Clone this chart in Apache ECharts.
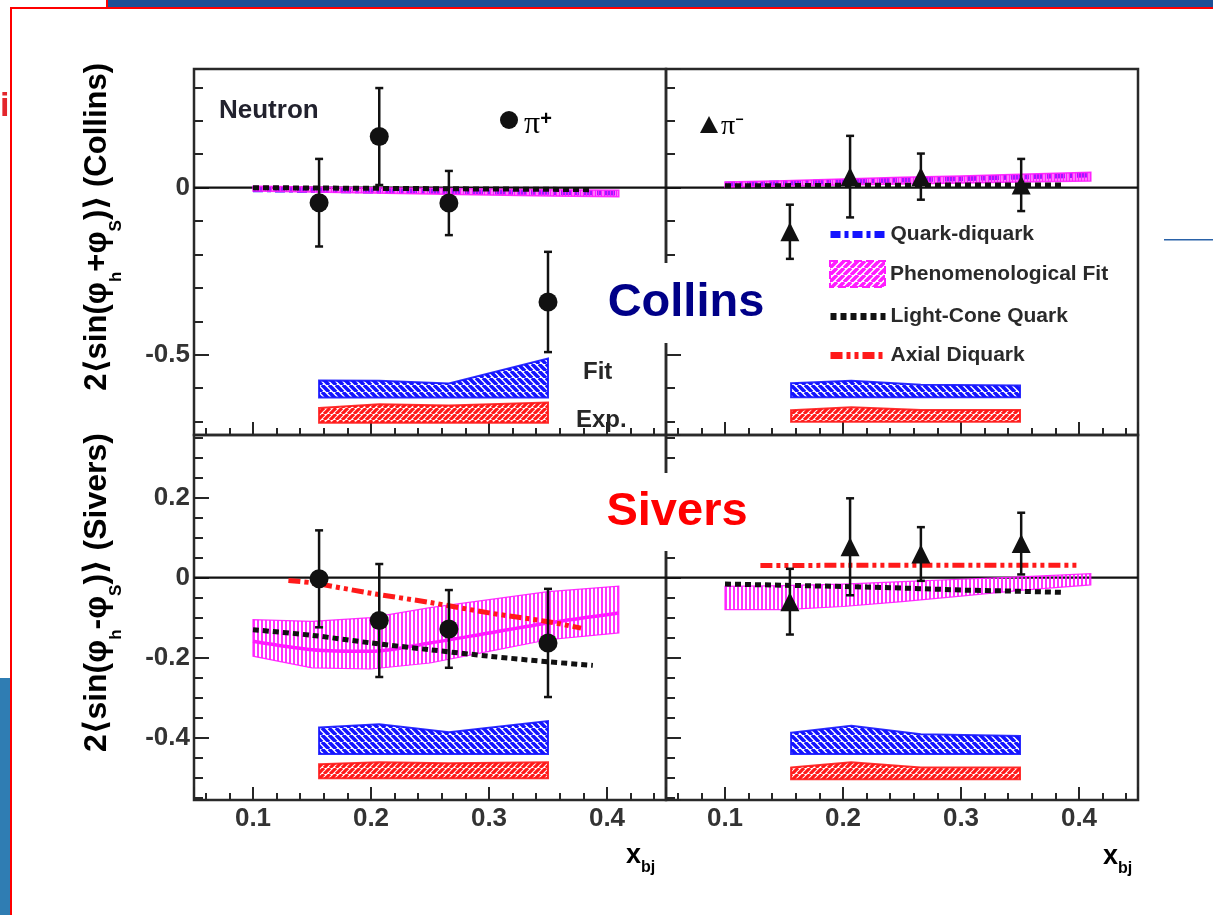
<!DOCTYPE html>
<html><head><meta charset="utf-8">
<script src="https://cdn.jsdelivr.net/npm/echarts@6/dist/echarts.min.js"></script>
<style>html,body{margin:0;padding:0;background:#fff}#c{width:1213px;height:915px}</style>
</head><body><div id="c"></div><script>
// ---------- tick labels ----------
const tickLabelsX = ['0.1', '0.2', '0.3', '0.4'];
const tickLabelsCollins = ['0', '-0.5'];
const tickLabelsSivers = ['0.2', '0', '-0.2', '-0.4'];

// ---------- data points (x_bj, asymmetry, stat. error) ----------
const ptXPip = [0.156, 0.207, 0.266, 0.350];
const ptXPim = [0.155, 0.206, 0.266, 0.351];
const collinsPipY = [-0.045, 0.153, -0.046, -0.342];
const collinsPipErr = [0.131, 0.145, 0.096, 0.150];
const collinsPimY = [-0.132, 0.033, 0.033, 0.008];
const collinsPimErr = [0.081, 0.122, 0.069, 0.078];
const siversPipY = [-0.003, -0.107, -0.128, -0.163];
const siversPipErr = [0.121, 0.141, 0.097, 0.135];
const siversPimY = [-0.060, 0.077, 0.059, 0.085];
const siversPimErr = [0.082, 0.121, 0.067, 0.077];

// ---------- phenomenological fit bands ----------
const phenoX = [0.10, 0.15, 0.20, 0.25, 0.30, 0.35, 0.41];
const colPipPhenoHi = [0.004, 0.002, 0.000, -0.002, -0.004, -0.006, -0.008];
const colPipPhenoLo = [-0.010, -0.013, -0.016, -0.019, -0.022, -0.025, -0.027];
const colPimPhenoHi = [0.017, 0.021, 0.026, 0.031, 0.035, 0.040, 0.046];
const colPimPhenoLo = [0.002, 0.005, 0.008, 0.011, 0.014, 0.017, 0.020];
const sivPipPhenoHi = [-0.105, -0.109, -0.100, -0.075, -0.055, -0.035, -0.021];
const sivPipPhenoLo = [-0.196, -0.225, -0.228, -0.213, -0.184, -0.155, -0.138];
const sivPipPhenoMid = [-0.159, -0.180, -0.184, -0.163, -0.138, -0.113, -0.088];
const sivPimPhenoHi = [-0.022, -0.020, -0.016, -0.010, -0.004, 0.002, 0.010];
const sivPimPhenoLo = [-0.080, -0.080, -0.072, -0.060, -0.046, -0.032, -0.018];

// ---------- model curves ----------
const qdX = [0.10, 0.15, 0.20, 0.25, 0.30, 0.35, 0.41];
const colPipQD = [-0.006, -0.008, -0.010, -0.011, -0.013, -0.014, -0.016];
const colPimQD = [0.010, 0.014, 0.018, 0.023, 0.027, 0.032, 0.038];

const lcXCol = [0.10, 0.15, 0.20, 0.25, 0.30, 0.35, 0.385];
const colPipLC = [0.000, -0.001, -0.002, -0.003, -0.004, -0.005, -0.006];
const colPimLC = [0.006, 0.006, 0.007, 0.007, 0.008, 0.008, 0.008];
const lcXSiv = [0.10, 0.15, 0.20, 0.25, 0.30, 0.35, 0.388];
const sivPipLC = [-0.130, -0.144, -0.163, -0.180, -0.196, -0.210, -0.219];
const sivPimLC = [-0.016, -0.019, -0.022, -0.026, -0.031, -0.034, -0.037];

const adXPip = [0.13, 0.15, 0.20, 0.25, 0.30, 0.35, 0.378];
const sivPipAD = [-0.007, -0.013, -0.039, -0.062, -0.088, -0.110, -0.126];
const adXPim = [0.13, 0.15, 0.20, 0.25, 0.30, 0.35, 0.398];
const sivPimAD = [0.030, 0.030, 0.031, 0.031, 0.031, 0.031, 0.031];

// ---------- systematic error bands ----------
const sysX = [0.156, 0.207, 0.266, 0.350];
const colPipFitTop = [-0.577, -0.578, -0.586, -0.511];
const colPipFitBase = [-0.628, -0.628, -0.628, -0.628];
const colPipExpTop = [-0.659, -0.648, -0.652, -0.643];
const colPipExpBase = [-0.703, -0.703, -0.703, -0.703];
const colPimFitTop = [-0.585, -0.578, -0.590, -0.592];
const colPimFitBase = [-0.627, -0.627, -0.627, -0.627];
const colPimExpTop = [-0.666, -0.657, -0.665, -0.665];
const colPimExpBase = [-0.700, -0.700, -0.700, -0.700];
const sivPipFitTop = [-0.374, -0.366, -0.386, -0.358];
const sivPipFitBase = [-0.440, -0.440, -0.440, -0.440];
const sivPipExpTop = [-0.466, -0.461, -0.463, -0.461];
const sivPipExpBase = [-0.501, -0.501, -0.501, -0.501];
const sivPimFitTop = [-0.387, -0.370, -0.391, -0.395];
const sivPimFitBase = [-0.440, -0.440, -0.440, -0.440];
const sivPimExpTop = [-0.474, -0.461, -0.474, -0.474];
const sivPimExpBase = [-0.503, -0.503, -0.503, -0.503];

const zeroX = [0.05, 0.45];
const zeroY = [0, 0];

// ---------- styling helpers ----------
const FONT = '"Liberation Sans", Arial, "DejaVu Sans", sans-serif';
const SERIF = '"Liberation Serif", "DejaVu Serif", serif';
const INK = '#262626';
const MAG = '#ff1cff', BLUE = '#1414ff', RED = '#ff1a1a';

function hatch(color, kind, size, lw) {
  const c = document.createElement('canvas');
  c.width = size; c.height = size;
  const g = c.getContext('2d');
  g.strokeStyle = color; g.lineWidth = lw;
  g.beginPath();
  if (kind === 'back') {
    for (let k = -1; k <= 1; k++) { g.moveTo(k * size, 0); g.lineTo(k * size + size, size); }
  } else if (kind === 'fwd') {
    for (let k = -1; k <= 1; k++) { g.moveTo(k * size, size); g.lineTo(k * size + size, 0); }
  } else {
    g.moveTo(size / 2, 0); g.lineTo(size / 2, size);
  }
  g.stroke();
  return { image: c, repeat: 'repeat' };
}
const patBlue = hatch(BLUE, 'back', 7, 3.6);
const patRed = hatch(RED, 'fwd', 6, 3.2);
const patMag = hatch(MAG, 'vert', 4, 1.8);
const patMagDense = hatch(MAG, 'vert', 3, 2.2);
const patMagLegend = hatch(MAG, 'fwd', 7, 3.5);

function fmt(v) { return String(Math.round(v * 1000) / 1000); }
function labelFilter(list) { return function (v) { const s = fmt(v); return list.indexOf(s) >= 0 ? s : ''; }; }

function xAx(g, showLabels) {
  return {
    type: 'value', gridIndex: g, min: 0.05, max: 0.45, splitNumber: 4,
    axisLine: { show: false, onZero: false }, splitLine: { show: false },
    axisTick: { show: true, inside: true, length: 13, lineStyle: { color: INK, width: 2 } },
    minorTick: { show: true, splitNumber: 5, length: 7, lineStyle: { color: INK, width: 2 } },
    axisLabel: { show: showLabels, margin: 6, fontSize: 26, fontWeight: 'bold', color: '#333', fontFamily: FONT,
      formatter: labelFilter(tickLabelsX) }
  };
}
function yAx(g, min, max, split, minorSplit, showLabels, labels) {
  return {
    type: 'value', gridIndex: g, min: min, max: max, splitNumber: split,
    axisLine: { show: false, onZero: false }, splitLine: { show: false },
    axisTick: { show: true, inside: true, length: 15, lineStyle: { color: INK, width: 2 } },
    minorTick: { show: true, splitNumber: minorSplit, length: 9, lineStyle: { color: INK, width: 2 } },
    axisLabel: { show: showLabels, margin: 4, fontSize: 26, fontWeight: 'bold', color: '#333', fontFamily: FONT,
      formatter: labelFilter(labels) }
  };
}

function zip2(xs, ys) { return xs.map(function (x, i) { return [x, ys[i]]; }); }
function zip3(xs, a, b) { return xs.map(function (x, i) { return [x, a[i], b[i]]; }); }

function bandSeries(name, g, xs, lo, hi, fill, stroke, sw, z) {
  return {
    type: 'custom', name: name, xAxisIndex: g, yAxisIndex: g, silent: true, z: z, clip: true,
    data: zip3(xs, lo, hi), encode: { x: 0, y: [1, 2] },
    itemStyle: { color: stroke },
    renderItem: function (params, api) {
      if (params.dataIndexInside !== 0) return null;
      const n = params.dataInsideLength;
      const top = [], bot = [];
      for (let j = 0; j < n; j++) {
        const x = api.value(0, j);
        top.push(api.coord([x, api.value(2, j)]));
        bot.push(api.coord([x, api.value(1, j)]));
      }
      const poly = top.concat(bot.slice().reverse());
      return { type: 'group', children: [
        { type: 'polygon', shape: { points: poly }, style: { fill: fill, stroke: null } },
        { type: 'polygon', shape: { points: poly }, style: { fill: null, stroke: stroke, lineWidth: sw, opacity: 0.9 } }
      ] };
    }
  };
}
function lineSeries(name, g, xs, ys, color, dash, width, z, smooth) {
  return {
    type: 'line', name: name, xAxisIndex: g, yAxisIndex: g, silent: true, z: z,
    data: zip2(xs, ys), symbol: 'none', showSymbol: false, smooth: smooth || false,
    lineStyle: { color: color, type: dash, width: width, cap: 'butt' }, itemStyle: { color: color }
  };
}
function errSeries(g, xs, ys, es) {
  return {
    type: 'custom', name: 'err' + g, xAxisIndex: g, yAxisIndex: g, silent: true, z: 8,
    data: zip3(xs, ys, es), encode: { x: 0, y: 1 },
    renderItem: function (params, api) {
      const x = api.value(0), y = api.value(1), e = api.value(2);
      const a = api.coord([x, y + e]), b = api.coord([x, y - e]);
      const cw = 4, st = { stroke: '#111', lineWidth: 2.5 };
      return { type: 'group', children: [
        { type: 'line', shape: { x1: a[0], y1: a[1], x2: b[0], y2: b[1] }, style: st },
        { type: 'line', shape: { x1: a[0] - cw, y1: a[1], x2: a[0] + cw, y2: a[1] }, style: st },
        { type: 'line', shape: { x1: b[0] - cw, y1: b[1], x2: b[0] + cw, y2: b[1] }, style: st }
      ] };
    }
  };
}
function pointSeries(name, g, xs, ys, symbol, size) {
  return {
    type: 'scatter', name: name, xAxisIndex: g, yAxisIndex: g, silent: true, z: 9,
    data: zip2(xs, ys), symbol: symbol, symbolSize: size, itemStyle: { color: '#111', opacity: 1 }
  };
}
function zeroSeries(g) {
  return { type: 'line', name: 'zero' + g, xAxisIndex: g, yAxisIndex: g, silent: true, z: 3,
    data: zip2(zeroX, zeroY), symbol: 'none', lineStyle: { color: '#111', width: 2.2 } };
}

const DASH_QD = [10, 4, 4, 4];
const DASH_LC = [6, 4];
const DASH_AD = [12, 4, 4, 4, 4, 4];

const series = [
  // systematic bands
  bandSeries('Fit', 0, sysX, colPipFitBase, colPipFitTop, patBlue, BLUE, 2, 1),
  bandSeries('Exp.', 0, sysX, colPipExpBase, colPipExpTop, patRed, RED, 2, 1),
  bandSeries('Fit', 1, sysX, colPimFitBase, colPimFitTop, patBlue, BLUE, 2, 1),
  bandSeries('Exp.', 1, sysX, colPimExpBase, colPimExpTop, patRed, RED, 2, 1),
  bandSeries('Fit', 2, sysX, sivPipFitBase, sivPipFitTop, patBlue, BLUE, 2, 1),
  bandSeries('Exp.', 2, sysX, sivPipExpBase, sivPipExpTop, patRed, RED, 2, 1),
  bandSeries('Fit', 3, sysX, sivPimFitBase, sivPimFitTop, patBlue, BLUE, 2, 1),
  bandSeries('Exp.', 3, sysX, sivPimExpBase, sivPimExpTop, patRed, RED, 2, 1),
  // zero lines
  zeroSeries(0), zeroSeries(1), zeroSeries(2), zeroSeries(3),
  // quark-diquark
  lineSeries('Quark-diquark', 0, qdX, colPipQD, BLUE, DASH_QD, 5, 4),
  lineSeries('Quark-diquark', 1, qdX, colPimQD, BLUE, DASH_QD, 5, 4),
  // phenomenological fit
  bandSeries('Phenomenological Fit', 0, phenoX, colPipPhenoLo, colPipPhenoHi, patMagDense, MAG, 1.5, 5),
  bandSeries('Phenomenological Fit', 1, phenoX, colPimPhenoLo, colPimPhenoHi, patMagDense, MAG, 1.5, 5),
  bandSeries('Phenomenological Fit', 2, phenoX, sivPipPhenoLo, sivPipPhenoHi, patMag, MAG, 1.2, 5),
  bandSeries('Phenomenological Fit', 3, phenoX, sivPimPhenoLo, sivPimPhenoHi, patMag, MAG, 1.2, 5),
  lineSeries('Phenomenological Fit', 2, phenoX, sivPipPhenoMid, MAG, 'solid', 3.5, 5, 0.3),
  // light-cone quark
  lineSeries('Light-Cone Quark', 0, lcXCol, colPipLC, '#111', DASH_LC, 5, 6),
  lineSeries('Light-Cone Quark', 1, lcXCol, colPimLC, '#111', DASH_LC, 5, 6),
  lineSeries('Light-Cone Quark', 2, lcXSiv, sivPipLC, '#111', DASH_LC, 5, 6, 0.3),
  lineSeries('Light-Cone Quark', 3, lcXSiv, sivPimLC, '#111', DASH_LC, 5, 6),
  // axial diquark
  lineSeries('Axial Diquark', 2, adXPip, sivPipAD, RED, DASH_AD, 5, 6, 0.3),
  lineSeries('Axial Diquark', 3, adXPim, sivPimAD, RED, DASH_AD, 5, 6),
  // error bars and points
  errSeries(0, ptXPip, collinsPipY, collinsPipErr),
  errSeries(1, ptXPim, collinsPimY, collinsPimErr),
  errSeries(2, ptXPip, siversPipY, siversPipErr),
  errSeries(3, ptXPim, siversPimY, siversPimErr),
  pointSeries('π+', 0, ptXPip, collinsPipY, 'circle', 19),
  pointSeries('π−', 1, ptXPim, collinsPimY, 'triangle', 19),
  pointSeries('π+', 2, ptXPip, siversPipY, 'circle', 19),
  pointSeries('π−', 3, ptXPim, siversPimY, 'triangle', 19)
];

const gridStyle = { show: true, borderColor: '#2a2a2a', borderWidth: 2.5, backgroundColor: 'transparent' };

function txt(x, y, text, size, extra) {
  const st = Object.assign({ text: text, fontSize: size, fontWeight: 'bold', fontFamily: FONT, fill: INK,
    align: 'left', verticalAlign: 'middle' }, extra || {});
  return { type: 'text', x: x, y: y, z: 50, style: st };
}
function titleRich(fs) {
  return {
    m: { fontSize: fs, fontWeight: 'bold', fontFamily: FONT, color: '#2e2e2e', lineHeight: 56 },
    s: { fontSize: 17, fontWeight: 'bold', fontFamily: FONT, color: '#2e2e2e', verticalAlign: 'bottom', lineHeight: 17 }
  };
}
const xbjRich = {
  m: { fontSize: 27, fontWeight: 'bold', fontFamily: FONT, color: '#333', lineHeight: 40 },
  s: { fontSize: 16, fontWeight: 'bold', fontFamily: FONT, color: '#333', verticalAlign: 'bottom', lineHeight: 14 }
};
const hideSym = { opacity: 0 };
const legendText = { fontSize: 21, fontWeight: 'bold', color: '#2a2a2a', fontFamily: FONT };

function legendAt(left, top, item) {
  return { show: true, orient: 'vertical', left: left, top: top, itemWidth: 55, itemHeight: 26,
    selectedMode: false, padding: 0, textStyle: legendText, data: [item] };
}

const option = {
  animation: false,
  backgroundColor: '#ffffff',
  grid: [
    Object.assign({ left: 194, top: 69, width: 472, height: 366 }, gridStyle),
    Object.assign({ left: 666, top: 69, width: 472, height: 366 }, gridStyle),
    Object.assign({ left: 194, top: 435, width: 472, height: 365 }, gridStyle),
    Object.assign({ left: 666, top: 435, width: 472, height: 365 }, gridStyle)
  ],
  xAxis: [xAx(0, false), xAx(1, false), xAx(2, true), xAx(3, true)],
  yAxis: [
    yAx(0, -0.74, 0.355, 2, 5, true, tickLabelsCollins),
    yAx(1, -0.74, 0.355, 2, 5, false, tickLabelsCollins),
    yAx(2, -0.555, 0.356, 4, 4, true, tickLabelsSivers),
    yAx(3, -0.555, 0.356, 4, 4, false, tickLabelsSivers)
  ],
  legend: [
    legendAt(827, 224, { name: 'Quark-diquark', itemStyle: hideSym,
      lineStyle: { width: 7, type: DASH_QD, color: BLUE } }),
    legendAt(829, 260, { name: 'Phenomenological Fit', icon: 'rect',
      itemStyle: { color: patMagLegend, borderColor: MAG, borderWidth: 2, borderType: 'dashed' } }),
    legendAt(827, 306, { name: 'Light-Cone Quark', itemStyle: hideSym,
      lineStyle: { width: 7, type: DASH_LC, color: '#111' } }),
    legendAt(827, 345, { name: 'Axial Diquark', itemStyle: hideSym,
      lineStyle: { width: 7, type: DASH_AD, color: RED } })
  ],
  series: series,
  graphic: [
    // slide decorations
    { type: 'rect', shape: { x: 107, y: 0, width: 1106, height: 7 }, style: { fill: '#1e4f95' }, z: 60 },
    { type: 'rect', shape: { x: 10, y: 7, width: 1203, height: 2 }, style: { fill: '#ff0000' }, z: 60 },
    { type: 'rect', shape: { x: 106, y: 0, width: 2, height: 9 }, style: { fill: '#ff0000' }, z: 60 },
    { type: 'rect', shape: { x: 0, y: 678, width: 10, height: 237 }, style: { fill: '#2f7db3' }, z: 60 },
    { type: 'rect', shape: { x: 10, y: 7, width: 2, height: 908 }, style: { fill: '#ff0000' }, z: 60 },
    { type: 'rect', shape: { x: 1164, y: 239, width: 49, height: 1.5 }, style: { fill: '#2a62a8' }, z: 60 },
    txt(0, 107, 'i', 34, { fill: '#e3262c' }),
    // panel annotations
    txt(219, 111, 'Neutron', 26, { fill: '#22222e' }),
    { type: 'circle', shape: { cx: 509, cy: 120, r: 9 }, style: { fill: '#111' }, z: 50 },
    { type: 'text', x: 524, y: 125, z: 50, style: { text: '{p|π}{u|+}', verticalAlign: 'middle', align: 'left',
      rich: { p: { fontSize: 32, fontFamily: SERIF, color: '#222' },
              u: { fontSize: 20, fontWeight: 'bold', fontFamily: FONT, color: '#222', verticalAlign: 'top', lineHeight: 20 } } } },
    { type: 'polygon', shape: { points: [[709, 116], [700, 133], [718, 133]] }, style: { fill: '#111' }, z: 50 },
    { type: 'text', x: 721, y: 127, z: 50, style: { text: '{p|π}{u|−}', verticalAlign: 'middle', align: 'left',
      rich: { p: { fontSize: 28, fontFamily: SERIF, color: '#222' },
              u: { fontSize: 14, fontWeight: 'bold', fontFamily: FONT, color: '#222', verticalAlign: 'top', lineHeight: 14 } } } },
    txt(583, 372, 'Fit', 24),
    txt(576, 420, 'Exp.', 24),
    { type: 'text', x: 686, y: 303, z: 100, style: { text: 'Collins', fontSize: 47, fontWeight: 'bold', fontFamily: FONT,
      fill: '#000088', align: 'center', verticalAlign: 'middle', backgroundColor: '#ffffff', padding: [16, 8], lineHeight: 48 } },
    { type: 'text', x: 677, y: 512, z: 100, style: { text: 'Sivers', fontSize: 47, fontWeight: 'bold', fontFamily: FONT,
      fill: '#ff0000', align: 'center', verticalAlign: 'middle', backgroundColor: '#ffffff', padding: [15, 8], lineHeight: 48 } },
    // axis titles
    { type: 'text', x: 97, y: 63, rotation: Math.PI / 2, z: 50, style: {
      text: '{m|2⟨sin(φ}{s|h}{m|+φ}{s|S}{m|)⟩ (Collins)}', align: 'right', verticalAlign: 'middle', rich: titleRich(31) } },
    { type: 'text', x: 97, y: 433, rotation: Math.PI / 2, z: 50, style: {
      text: '{m|2⟨sin(φ}{s|h}{m|-φ}{s|S}{m|)⟩ (Sivers)}', align: 'right', verticalAlign: 'middle', rich: titleRich(32) } },
    { type: 'text', x: 626, y: 856, z: 50, style: { text: '{m|x}{s|bj}', align: 'left', verticalAlign: 'middle', rich: xbjRich } },
    { type: 'text', x: 1103, y: 857, z: 50, style: { text: '{m|x}{s|bj}', align: 'left', verticalAlign: 'middle', rich: xbjRich } }
  ]
};

const chart = echarts.init(document.getElementById('c'), null, { renderer: 'canvas' });
chart.setOption(option);
</script></body></html>
